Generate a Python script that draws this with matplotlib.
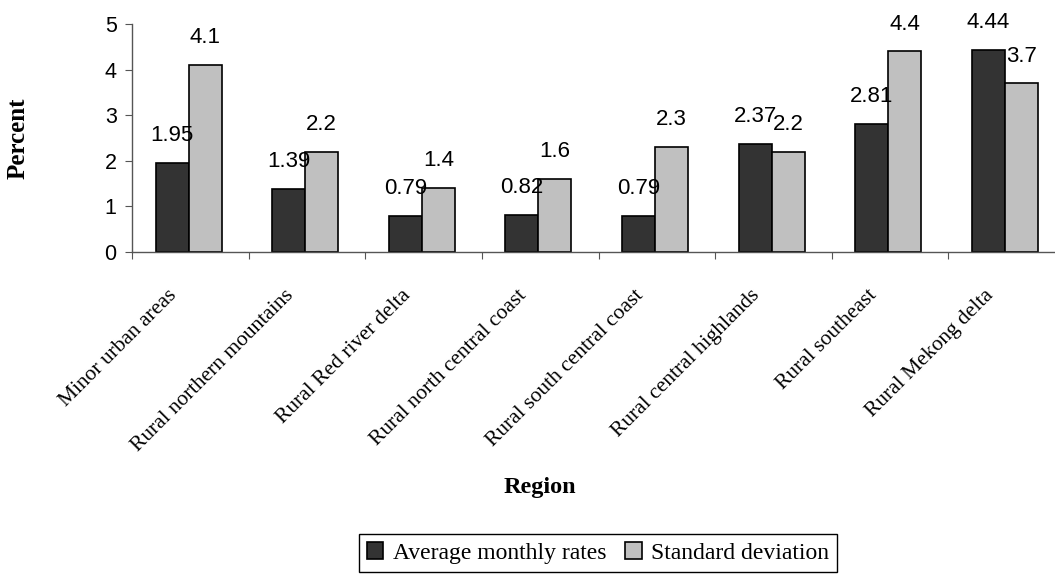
import numpy as np
import matplotlib.pyplot as plt
from matplotlib.transforms import ScaledTranslation

regions = ['Minor urban areas', 'Rural northern mountains', 'Rural Red river delta',
           'Rural north central coast', 'Rural south central coast',
           'Rural central highlands', 'Rural southeast', 'Rural Mekong delta']
avg_rates = [1.95, 1.39, 0.79, 0.82, 0.79, 2.37, 2.81, 4.44]
std_dev = [4.1, 2.2, 1.4, 1.6, 2.3, 2.2, 4.4, 3.7]
avg_labels = ['1.95', '1.39', '0.79', '0.82', '0.79', '2.37', '2.81', '4.44']
std_labels = ['4.1', '2.2', '1.4', '1.6', '2.3', '2.2', '4.4', '3.7']

serif = 'Liberation Serif'
sans = 'Liberation Sans'

fig = plt.figure(figsize=(10.55, 5.75), dpi=100)
ax = fig.add_axes([132 / 1055, 323 / 575, 933 / 1055, 228 / 575])

x = np.arange(len(regions))
w = 0.283
b1 = ax.bar(x - w / 2 - 0.015, avg_rates, w, color='#333333', edgecolor='black',
            linewidth=1.2, label='Average monthly rates')
b2 = ax.bar(x + w / 2 - 0.015, std_dev, w, color='#c0c0c0', edgecolor='black',
            linewidth=1.2, label='Standard deviation')

# value labels above each bar
for bars, labels in [(b1, avg_labels), (b2, std_labels)]:
    for bar, txt in zip(bars, labels):
        ax.annotate(txt, (bar.get_x() + bar.get_width() / 2, bar.get_height()),
                    xytext=(0, 12), textcoords='offset points', ha='center',
                    va='bottom', fontsize=16, family=sans)

ax.set_xlim(-0.5, len(regions) - 0.5)
ax.set_ylim(0, 5)
ax.set_yticks(range(6))
ax.tick_params(axis='y', labelsize=15.5, length=5, color='#555555', pad=6)
for lbl in ax.get_yticklabels():
    lbl.set_family(sans)

# ticks at category boundaries, names at centres
ax.set_xticks(np.arange(len(regions)) - 0.5)
ax.set_xticklabels([])
ax.tick_params(axis='x', which='major', length=5, color='#555555')
ax.set_xticks(x, minor=True)
ax.set_xticklabels(regions, minor=True, rotation=45, ha='right', va='center',
                   rotation_mode='anchor', fontsize=15.5, family=serif)
ax.tick_params(axis='x', which='minor', length=0, pad=18)
shift = ScaledTranslation(-0.16, -0.16, fig.dpi_scale_trans)
for lbl in ax.get_xticklabels(minor=True):
    lbl.set_transform(lbl.get_transform() + shift)

for s in ['top', 'right']:
    ax.spines[s].set_visible(False)
for s in ['left', 'bottom']:
    ax.spines[s].set_color('#555555')
    ax.spines[s].set_linewidth(1.0)

fig.text(18 / 1055, 1 - 138 / 575, 'Percent', rotation=90, ha='center', va='center',
         fontsize=18, fontweight='bold', family=serif)
fig.text(540 / 1055, 1 - 488 / 575, 'Region', ha='center', va='center',
         fontsize=17.5, fontweight='bold', family=serif)

fig.legend(loc='center', bbox_to_anchor=(598 / 1055, 1 - 553 / 575), ncol=2,
           frameon=True, fancybox=False, edgecolor='black', framealpha=1,
           handlelength=0.7, handleheight=0.7, handletextpad=0.4,
           columnspacing=0.8, borderpad=0.35, borderaxespad=0,
           prop={'family': serif, 'size': 17})

fig.savefig('out.png', dpi=100)
